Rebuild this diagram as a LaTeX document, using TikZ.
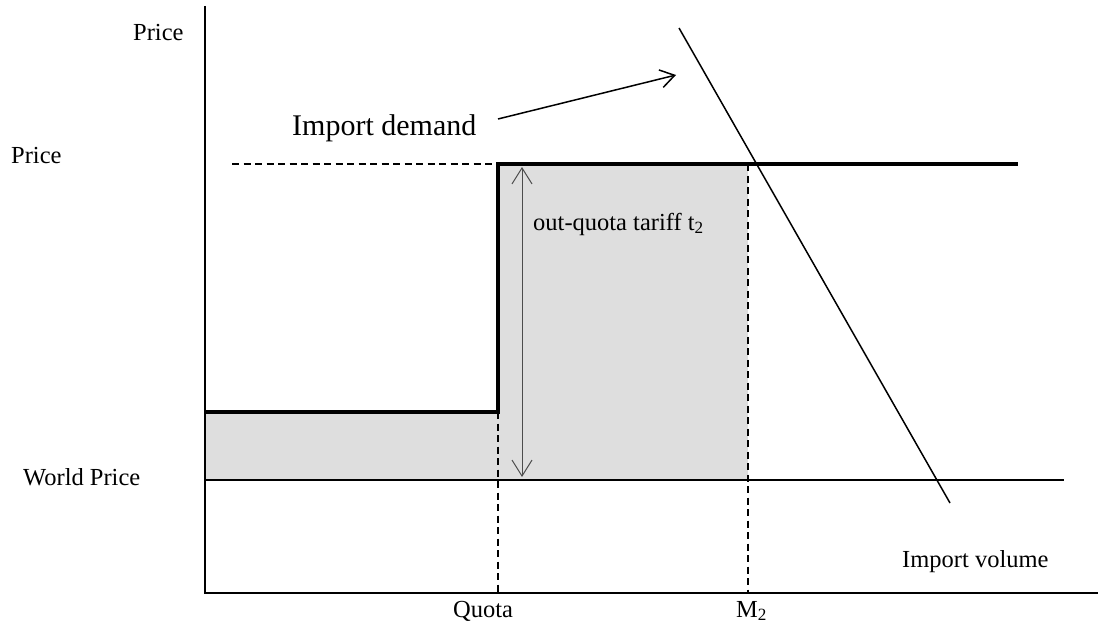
\documentclass[tikz,border=0pt]{standalone}
\usepackage{fontspec}
\setmainfont{Liberation Serif}
\usetikzlibrary{arrows.meta}
\begin{document}
\begin{tikzpicture}[x=1pt,y=-1pt,
  axis/.style={line width=1.5pt},
  stepline/.style={line width=4.5pt},
  guide/.style={line width=1.3pt, dash pattern=on 7pt off 4.5pt},
  shadearea/.style={fill=black!13, draw=none},
  lbl/.style={font=\fontsize{24.5}{28}\selectfont, inner sep=0pt},
  biglbl/.style={font=\fontsize{30}{34}\selectfont, inner sep=0pt},
  barb/.style={-{Straight Barb[length=14pt,width=18pt]}, line width=1.5pt},
  dbarb/.style={{Straight Barb[length=16pt,width=20pt]}-{Straight Barb[length=16pt,width=20pt]}, line width=1pt, draw=black!70}
]
\useasboundingbox (0,0) rectangle (1100,634);

% key coordinates
\coordinate (O) at (205,593);
\coordinate (Ytop) at (205,6);
\coordinate (Xend) at (1098,593);
\coordinate (WPl) at (205,480);
\coordinate (WPr) at (1064,480);
\coordinate (Lowl) at (205,412);
\coordinate (Lowr) at (498,412);
\coordinate (Highl) at (498,164);
\coordinate (Highr) at (1018,164);
\coordinate (Dashl) at (232,164);
\coordinate (Qbase) at (498,593);
\coordinate (M2top) at (748,164);
\coordinate (M2base) at (748,593);
\coordinate (Dtop) at (679,28);
\coordinate (Dbot) at (950,503);
\coordinate (tTop) at (522,167);
\coordinate (tBot) at (522,477);
\coordinate (arrS) at (498,119);
\coordinate (arrE) at (676,75);

% shaded area
\fill[shadearea] (205,412) rectangle (498,480);
\fill[shadearea] (498,164) rectangle (748,480);

% world price line
\draw[axis, line width=1.3pt] (WPl) -- (WPr);

% dashed guides
\draw[guide] (Dashl) -- (Highl);
\draw[guide] (Lowr) -- (Qbase);
\draw[guide] (M2top) -- (M2base);

% step (supply) line
\draw[stepline, line join=miter] (Lowl) -- (Lowr) -- (Highl) -- (Highr);

% axes
\draw[axis] (Ytop) -- (O) -- (Xend);

% import demand line
\draw[line width=1.5pt] (Dtop) -- (Dbot);

% arrows
\draw[barb] (arrS) -- (arrE);
\draw[dbarb] (tTop) -- (tBot);

% labels
\node[lbl, anchor=base west] (price1) at (133,41) {Price};
\node[lbl, anchor=base west] (price2) at (11,163) {Price};
\node[lbl, anchor=base west] (wp) at (23,485) {World Price};
\node[lbl, anchor=base west] (quota) at (453,617) {Quota};
\node[lbl, anchor=base west] (m2) at (736,617) {M\textsubscript{2}};
\node[lbl, anchor=base west] (iv) at (902,567) {Import volume};
\node[lbl, anchor=base west] (tariff) at (533,230) {out-quota tariff t\textsubscript{2}};
\node[biglbl, anchor=base west] (idem) at (292,135) {Import demand};
\end{tikzpicture}
\end{document}
